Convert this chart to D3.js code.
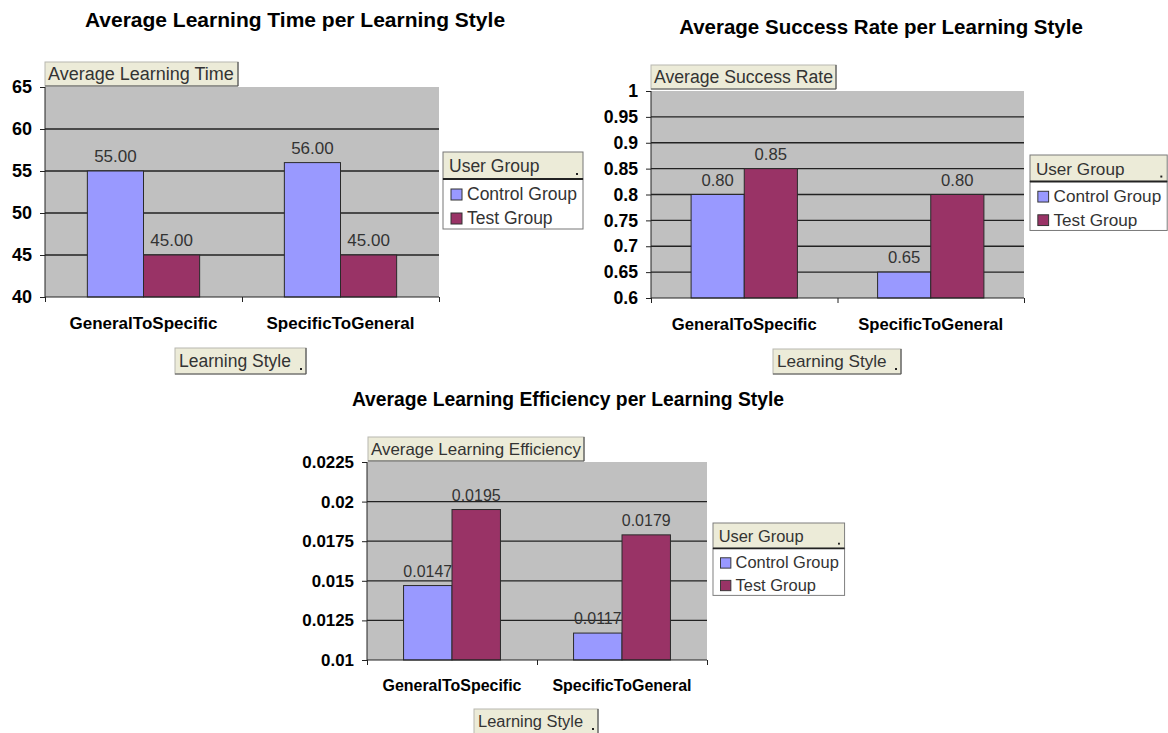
<!DOCTYPE html>
<html>
<head>
<meta charset="utf-8">
<script src="https://cdn.jsdelivr.net/npm/d3@7"></script>
<style>
  html, body { margin: 0; padding: 0; background: #fff; }
  svg { display: block; font-family: Arial, "Liberation Sans", sans-serif; }
</style>
</head>
<body>
<svg id="chart" width="1168" height="733"></svg>
<script>
// ---------------- DATA ----------------
const categories = ["GeneralToSpecific", "SpecificToGeneral"];
const seriesNames = ["Control Group", "Test Group"];

const timeControl = [55.00, 56.00];
const timeTest = [45.00, 45.00];
const successControl = [0.80, 0.65];
const successTest = [0.85, 0.80];
const efficiencyControl = [0.0147, 0.0117];
const efficiencyTest = [0.0195, 0.0179];

const timeTicks = [40, 45, 50, 55, 60, 65];
const successTicks = [0.6, 0.65, 0.7, 0.75, 0.8, 0.85, 0.9, 0.95, 1];
const efficiencyTicks = [0.01, 0.0125, 0.015, 0.0175, 0.02, 0.0225];

const chartTitles = [
  "Average Learning Time per Learning Style",
  "Average Success Rate per Learning Style",
  "Average Learning Efficiency per Learning Style"
];
const measureLabels = ["Average Learning Time", "Average Success Rate", "Average Learning Efficiency"];
const xAxisLabel = "Learning Style";
const legendTitle = "User Group";
const valueFormats = [".2f", ".2f", ".4f"];

// ---------------- STYLE / LAYOUT ----------------
const colors = ["#9999ff", "#993366"];
const plotBg = "#c0c0c0";
const boxFill = "#ecebd8";

const layouts = [
  { plot: {x0: 45, x1: 439, y0: 87, y1: 297}, s: 1.0,
    title: {x: 295, y: 27, size: 21},
    ylab: {x: 45, y: 62, w: 193, h: 24},
    legend: {x: 443, y: 152, w: 140},
    xlab: {x: 175, y: 348, w: 131, h: 26},
    catY: 329 },
  { plot: {x0: 651, x1: 1024, y0: 91, y1: 298}, s: 0.98,
    title: {x: 881, y: 34, size: 20.5},
    ylab: {x: 651, y: 65, w: 185, h: 24},
    legend: {x: 1030, y: 155, w: 140},
    xlab: {x: 773, y: 349, w: 128, h: 25},
    catY: 330 },
  { plot: {x0: 367, x1: 707, y0: 462, y1: 660}, s: 0.94,
    title: {x: 568, y: 406, size: 19.3},
    ylab: {x: 368, y: 437, w: 216, h: 24},
    legend: {x: 713, y: 523, w: 140},
    xlab: {x: 474, y: 709, w: 124, h: 25},
    catY: 691 }
];

const chartData = [
  { control: timeControl, test: timeTest, ticks: timeTicks },
  { control: successControl, test: successTest, ticks: successTicks },
  { control: efficiencyControl, test: efficiencyTest, ticks: efficiencyTicks }
];

const svg = d3.select("#chart");

function beigeBox(g, x, y, w, h, withDot) {
  g.append("rect").attr("x", x).attr("y", y).attr("width", w).attr("height", h)
    .attr("fill", boxFill).attr("stroke", "#b8b8b0").attr("stroke-width", 1);
  g.append("line").attr("x1", x + w).attr("x2", x + w).attr("y1", y).attr("y2", y + h)
    .attr("stroke", "#555").attr("stroke-width", 1.2);
  g.append("line").attr("x1", x).attr("x2", x + w).attr("y1", y + h).attr("y2", y + h)
    .attr("stroke", "#555").attr("stroke-width", 1.2);
  if (withDot) {
    g.append("rect").attr("x", x + w - 6).attr("y", y + h - 6).attr("width", 2).attr("height", 2)
      .attr("fill", "#222");
  }
}

chartData.forEach((cd, ci) => {
  const L = layouts[ci];
  const s = L.s;
  const p = L.plot;
  const g = svg.append("g");

  const y = d3.scaleLinear()
    .domain([cd.ticks[0], cd.ticks[cd.ticks.length - 1]])
    .range([p.y1, p.y0]);
  const x0 = d3.scaleBand().domain(categories).range([p.x0, p.x1]).padding(0);
  const bw = x0.bandwidth();
  const x1 = d3.scaleBand().domain(seriesNames).range([0.215 * bw, 0.785 * bw]).padding(0);

  // title
  g.append("text").attr("x", L.title.x).attr("y", L.title.y)
    .attr("text-anchor", "middle").attr("font-weight", "bold")
    .attr("font-size", L.title.size).attr("fill", "#000")
    .text(chartTitles[ci]);

  // plot background
  g.append("rect").attr("x", p.x0).attr("y", p.y0)
    .attr("width", p.x1 - p.x0).attr("height", p.y1 - p.y0)
    .attr("fill", plotBg);

  // gridlines (interior ticks)
  g.append("g").selectAll("line")
    .data(cd.ticks.slice(1, -1))
    .join("line")
    .attr("x1", p.x0).attr("x2", p.x1)
    .attr("y1", d => y(d)).attr("y2", d => y(d))
    .attr("stroke", "#222").attr("stroke-width", 1.3);

  // bars
  const rows = categories.map((c, i) => ({ cat: c, vals: [cd.control[i], cd.test[i]] }));
  const fmt = d3.format(valueFormats[ci]);
  const grp = g.append("g").selectAll("g").data(rows).join("g")
    .attr("transform", d => `translate(${x0(d.cat)},0)`);
  grp.selectAll("rect")
    .data(d => d.vals.map((v, k) => ({ v, name: seriesNames[k], k })))
    .join("rect")
    .attr("x", d => x1(d.name))
    .attr("y", d => y(d.v))
    .attr("width", x1.bandwidth())
    .attr("height", d => y(cd.ticks[0]) - y(d.v))
    .attr("fill", d => colors[d.k])
    .attr("stroke", "#2a2a2a").attr("stroke-width", 1);
  grp.selectAll("text")
    .data(d => d.vals.map((v, k) => ({ v, name: seriesNames[k], k })))
    .join("text")
    .attr("x", d => x1(d.name) + x1.bandwidth() / 2)
    .attr("y", d => y(d.v) - 9)
    .attr("text-anchor", "middle")
    .attr("font-size", 17 * s).attr("fill", "#333")
    .text(d => fmt(d.v));

  // left axis
  const yAxis = d3.axisLeft(y).tickValues(cd.ticks).tickSize(5).tickPadding(8)
    .tickFormat(d3.format("~g"));
  const ya = g.append("g").attr("transform", `translate(${p.x0},0)`).call(yAxis);
  ya.select(".domain").attr("stroke", "#222").attr("d", `M0,${p.y0}V${p.y1}`);
  ya.selectAll(".tick line").attr("stroke", "#222");
  ya.selectAll(".tick text").attr("font-size", 18 * s).attr("font-weight", "bold")
    .attr("fill", "#000").attr("font-family", "Arial, 'Liberation Sans', sans-serif");

  // bottom axis
  const xb = d3.scaleLinear().domain([0, categories.length]).range([p.x0, p.x1]);
  const xAxis = d3.axisBottom(xb).tickValues(d3.range(categories.length + 1)).tickSize(5)
    .tickFormat("");
  const xa = g.append("g").attr("transform", `translate(0,${p.y1})`).call(xAxis);
  xa.select(".domain").attr("stroke", "#222").attr("d", `M${p.x0},0H${p.x1}`);
  xa.selectAll(".tick line").attr("stroke", "#222");

  // category labels
  g.append("g").selectAll("text").data(categories).join("text")
    .attr("x", d => x0(d) + bw / 2).attr("y", L.catY)
    .attr("text-anchor", "middle").attr("font-weight", "bold")
    .attr("font-size", 17 * s).attr("fill", "#000")
    .text(d => d);

  // measure label box
  beigeBox(g, L.ylab.x, L.ylab.y, L.ylab.w, L.ylab.h, false);
  g.append("text").attr("x", L.ylab.x + 3).attr("y", L.ylab.y + L.ylab.h - 6)
    .attr("font-size", 18 * s).attr("fill", "#333")
    .text(measureLabels[ci]);

  // x axis field box
  beigeBox(g, L.xlab.x, L.xlab.y, L.xlab.w, L.xlab.h, true);
  g.append("text").attr("x", L.xlab.x + 4).attr("y", L.xlab.y + L.xlab.h - 7)
    .attr("font-size", 17.5 * s).attr("fill", "#333")
    .text(xAxisLabel);

  // legend
  const lg = g.append("g").attr("transform", `translate(${L.legend.x},${L.legend.y}) scale(${s})`);
  const lw = L.legend.w;
  lg.append("rect").attr("x", 0).attr("y", 27).attr("width", lw).attr("height", 50)
    .attr("fill", "#fff").attr("stroke", "#777").attr("stroke-width", 1);
  lg.append("rect").attr("x", 0).attr("y", 0).attr("width", lw).attr("height", 27)
    .attr("fill", boxFill).attr("stroke", "#777").attr("stroke-width", 1);
  lg.append("line").attr("x1", 0).attr("x2", lw).attr("y1", 27).attr("y2", 27)
    .attr("stroke", "#222").attr("stroke-width", 2);
  lg.append("rect").attr("x", lw - 7).attr("y", 21).attr("width", 2).attr("height", 2).attr("fill", "#222");
  lg.append("text").attr("x", 6).attr("y", 20).attr("font-size", 17.5).attr("fill", "#333")
    .text(legendTitle);
  const items = lg.selectAll("g.item").data(seriesNames).join("g").attr("class", "item")
    .attr("transform", (d, i) => `translate(0,${i * 24})`);
  items.append("rect").attr("x", 8).attr("y", 37).attr("width", 11).attr("height", 11)
    .attr("fill", (d, i) => colors[i]).attr("stroke", "#333").attr("stroke-width", 1);
  items.append("text").attr("x", 24).attr("y", 48).attr("font-size", 17.5).attr("fill", "#333")
    .text(d => d);
});
</script>
</body>
</html>
